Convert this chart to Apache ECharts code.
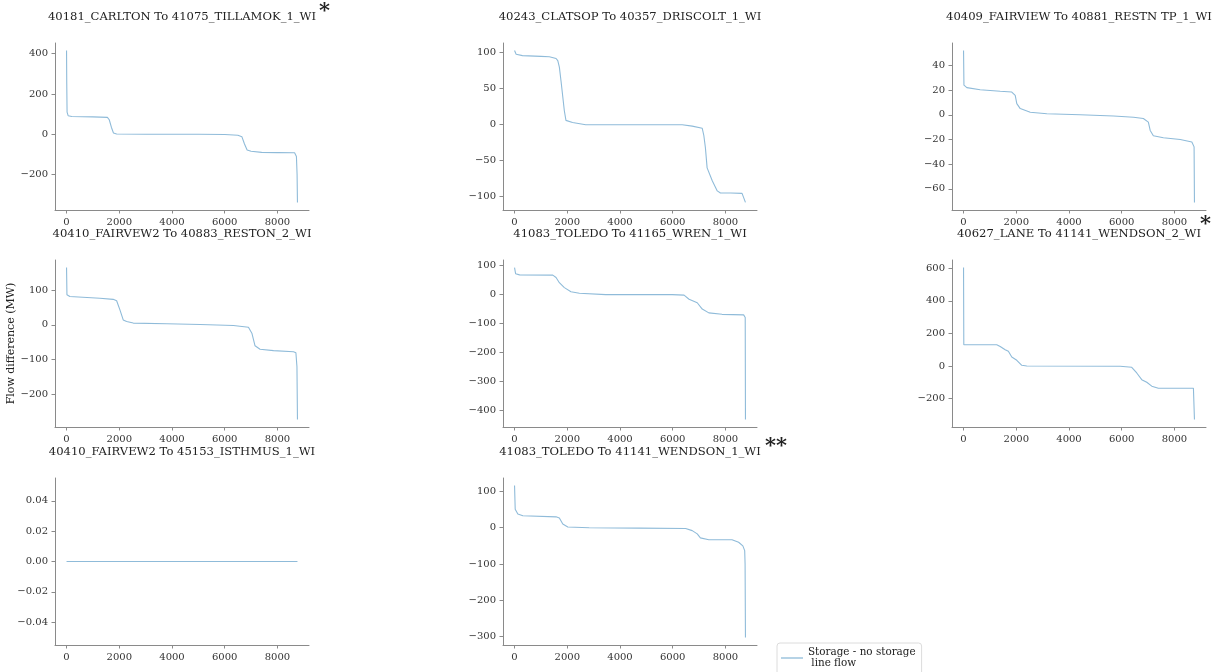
<!DOCTYPE html>
<html>
<head>
<meta charset="utf-8">
<script src="https://cdn.jsdelivr.net/npm/echarts@6/dist/echarts.min.js"></script>
<style>
  html, body { margin: 0; padding: 0; background: #fff; }
  #chart { width: 1215px; height: 672px; }
</style>
</head>
<body>
<div id="chart"></div>
<script>
// Sorted hourly flow difference (storage minus no-storage) per line, MW
const titles = [
  '40181_CARLTON To 41075_TILLAMOK_1_WI',
  '40243_CLATSOP To 40357_DRISCOLT_1_WI',
  '40409_FAIRVIEW To 40881_RESTN TP_1_WI',
  '40410_FAIRVEW2 To 40883_RESTON_2_WI',
  '41083_TOLEDO To 41165_WREN_1_WI',
  '40627_LANE To 41141_WENDSON_2_WI',
  '40410_FAIRVEW2 To 45153_ISTHMUS_1_WI',
  '41083_TOLEDO To 41141_WENDSON_1_WI'
];

const hours1 = [0, 8, 20, 60, 200, 1000, 1550, 1620, 1700, 1780, 1900, 3000, 5000, 6000, 6500, 6650, 6750, 6850, 7000, 7400, 8000, 8650, 8720, 8745, 8759];
const flow1  = [415, 250, 110, 92, 88, 86, 84, 72, 35, 6, 1, 0, 0, -1, -5, -12, -48, -78, -84, -90, -91, -92, -110, -200, -338];

const hours2 = [0, 60, 300, 1000, 1320, 1575, 1640, 1700, 1765, 1890, 1950, 2200, 2700, 4000, 6360, 6740, 7120, 7180, 7240, 7305, 7500, 7690, 7810, 8200, 8630, 8690, 8759];
const flow2  = [103, 98, 96, 95, 94.5, 92, 89, 80, 60, 19, 6, 3, 0, 0, 0, -2, -5, -15, -32, -60, -78, -92, -95, -95, -95.5, -97, -108];

const hours3 = [0, 15, 126, 630, 1390, 1830, 1960, 2020, 2150, 2530, 3160, 4420, 5690, 6450, 6820, 7010, 7080, 7200, 7580, 8220, 8660, 8745, 8759];
const flow3  = [52, 24, 22, 20.3, 19, 18.4, 15.7, 9, 5, 2, 0.8, 0, -1, -2, -3, -6, -12.7, -17, -18.6, -20, -22, -26, -71];

const hours4 = [0, 15, 125, 1265, 1770, 1900, 2025, 2150, 2280, 2530, 3800, 5070, 6330, 6900, 7030, 7150, 7340, 7850, 8610, 8700, 8740, 8759];
const flow4  = [164, 86, 81, 76, 73, 69, 43, 14, 9.5, 5, 3, 1, -2, -7, -24, -60, -70, -74, -77, -80, -120, -271];

const hours5 = [0, 40, 190, 1450, 1575, 1700, 1890, 2140, 2460, 3460, 5980, 6430, 6620, 6930, 7120, 7370, 7870, 8690, 8750, 8759];
const flow5  = [93, 72, 68, 67, 59, 41, 24, 10, 4.6, 0, 0, -2, -16, -28, -50, -63, -68, -70, -79, -430];

const hours6 = [0, 10, 1260, 1390, 1580, 1700, 1830, 2020, 2210, 2400, 5940, 6380, 6570, 6760, 6950, 7140, 7390, 8720, 8759];
const flow6  = [604, 130, 130, 120, 100, 90, 55, 35, 4, 0, -2, -8, -43, -84, -100, -124, -137, -137, -328];

const hours7 = [0, 8759];
const flow7  = [0, 0];

const hours8 = [0, 25, 125, 315, 1575, 1700, 1830, 2020, 2830, 4720, 6490, 6740, 6930, 7050, 7370, 8250, 8500, 8660, 8730, 8745, 8759];
const flow8  = [116, 51, 38, 33, 30, 27, 10, 2, 0, -1, -2, -8, -17, -28, -33, -33, -40, -50, -63, -100, -302];

const xTicks = [0, 2000, 4000, 6000, 8000];
const yTicks1 = [-200, 0, 200, 400];
const yTicks2 = [-100, -50, 0, 50, 100];
const yTicks3 = [-60, -40, -20, 0, 20, 40];
const yTicks4 = [-200, -100, 0, 100];
const yTicks5 = [-400, -300, -200, -100, 0, 100];
const yTicks6 = [-200, 0, 200, 400, 600];
const yTicks7 = [-0.04, -0.02, 0.00, 0.02, 0.04];
const yTicks8 = [-300, -200, -100, 0, 100];

const seriesName = 'Storage - no storage\n line flow';

const panels = [
  { h: hours1, f: flow1, t: yTicks1 },
  { h: hours2, f: flow2, t: yTicks2 },
  { h: hours3, f: flow3, t: yTicks3 },
  { h: hours4, f: flow4, t: yTicks4 },
  { h: hours5, f: flow5, t: yTicks5 },
  { h: hours6, f: flow6, t: yTicks6 },
  { h: hours7, f: flow7, t: yTicks7, dec: 2 },
  { h: hours8, f: flow8, t: yTicks8 }
];

// layout of the 3x3 subplot grid
const FONT = 'DejaVu Serif';
const colLeft = [55, 503, 952];
const rowTop = [43, 260, 478];
const W = 254, H = 167;
const LINE = '#8fbbd9';
const SPINE = '#8a8a8a';
const TEXT = '#333';

function fmt(v, dec) {
  const s = dec ? Math.abs(v).toFixed(dec) : String(Math.abs(v));
  return (v < 0 ? '\u2212' : '') + s;
}

const grids = [], xAxes = [], yAxes = [], series = [], titleList = [];
panels.forEach((p, i) => {
  const r = Math.floor(i / 3), c = i % 3;
  grids.push({ left: colLeft[c], top: rowTop[r], width: W, height: H, containLabel: false });
  // 5% margins around the data extent on both axes
  const xmin = Math.min(...p.h), xmax = Math.max(...p.h), xpad = (xmax - xmin) * 0.05;
  let ymin = Math.min(...p.f), ymax = Math.max(...p.f);
  let ypad = (ymax - ymin) * 0.05;
  if (ymax === ymin) { ymin -= 0.05; ymax += 0.05; ypad = 0.005; }
  const spine = { show: true, onZero: false, lineStyle: { color: SPINE, width: 1 } };
  xAxes.push({
    type: 'value', gridIndex: i,
    min: xmin - xpad, max: xmax + xpad,
    axisLine: spine,
    axisTick: { show: true, length: 3.5, customValues: xTicks, lineStyle: { color: SPINE, width: 1 } },
    splitLine: { show: false },
    axisLabel: { customValues: xTicks, fontFamily: FONT, fontSize: 10, color: TEXT, margin: 7,
      formatter: (v) => fmt(Math.round(v)) }
  });
  const yAx = {
    type: 'value', gridIndex: i,
    min: ymin - ypad, max: ymax + ypad,
    axisLine: spine,
    axisTick: { show: true, length: 3.5, customValues: p.t, lineStyle: { color: SPINE, width: 1 } },
    splitLine: { show: false },
    axisLabel: { customValues: p.t, fontFamily: FONT, fontSize: 10, color: TEXT, margin: 7,
      formatter: (v) => fmt(Math.round(v * 1000) / 1000, p.dec) }
  };
  if (i === 3) {
    yAx.name = 'Flow difference (MW)';
    yAx.nameLocation = 'middle';
    yAx.nameGap = 34;
    yAx.nameTextStyle = { fontFamily: FONT, fontSize: 11, color: '#222' };
  }
  yAxes.push(yAx);
  series.push({
    name: seriesName, type: 'line', xAxisIndex: i, yAxisIndex: i,
    data: p.h.map((h, k) => [h, p.f[k]]),
    symbol: 'none', showSymbol: false,
    lineStyle: { color: LINE, width: 1.1 }, itemStyle: { color: LINE },
    silent: true
  });
  titleList.push({
    text: titles[i], left: colLeft[c] + W / 2, top: rowTop[r] - 32, textAlign: 'center',
    padding: 0,
    textStyle: { fontFamily: FONT, fontSize: 11.6, fontWeight: 'normal', color: '#222' }
  });
});

const chart = echarts.init(document.getElementById('chart'), null, { renderer: 'canvas' });
chart.setOption({
  animation: false,
  backgroundColor: '#fff',
  title: titleList,
  grid: grids,
  xAxis: xAxes,
  yAxis: yAxes,
  series: series,
  legend: {
    data: [{ name: seriesName, icon: 'rect' }],
    left: 777, top: 643,
    orient: 'vertical',
    itemWidth: 22, itemHeight: 1.3,
    padding: [4, 6, 8, 4],
    borderColor: '#dcdcdc', borderWidth: 1, borderRadius: 3,
    backgroundColor: '#fff',
    itemStyle: { color: LINE },
    textStyle: { fontFamily: FONT, fontSize: 10.4, color: '#222', lineHeight: 11 },
    selectedMode: false
  },
  graphic: [
    { type: 'text', left: 319, top: 1, style: { text: '*', font: 'bold 21px "DejaVu Serif"', fill: '#222' } },
    { type: 'text', left: 1200, top: 214, style: { text: '*', font: 'bold 21px "DejaVu Serif"', fill: '#222' } },
    { type: 'text', left: 765, top: 436, style: { text: '**', font: 'bold 21px "DejaVu Serif"', fill: '#222' } }
  ]
});
</script>
</body>
</html>
